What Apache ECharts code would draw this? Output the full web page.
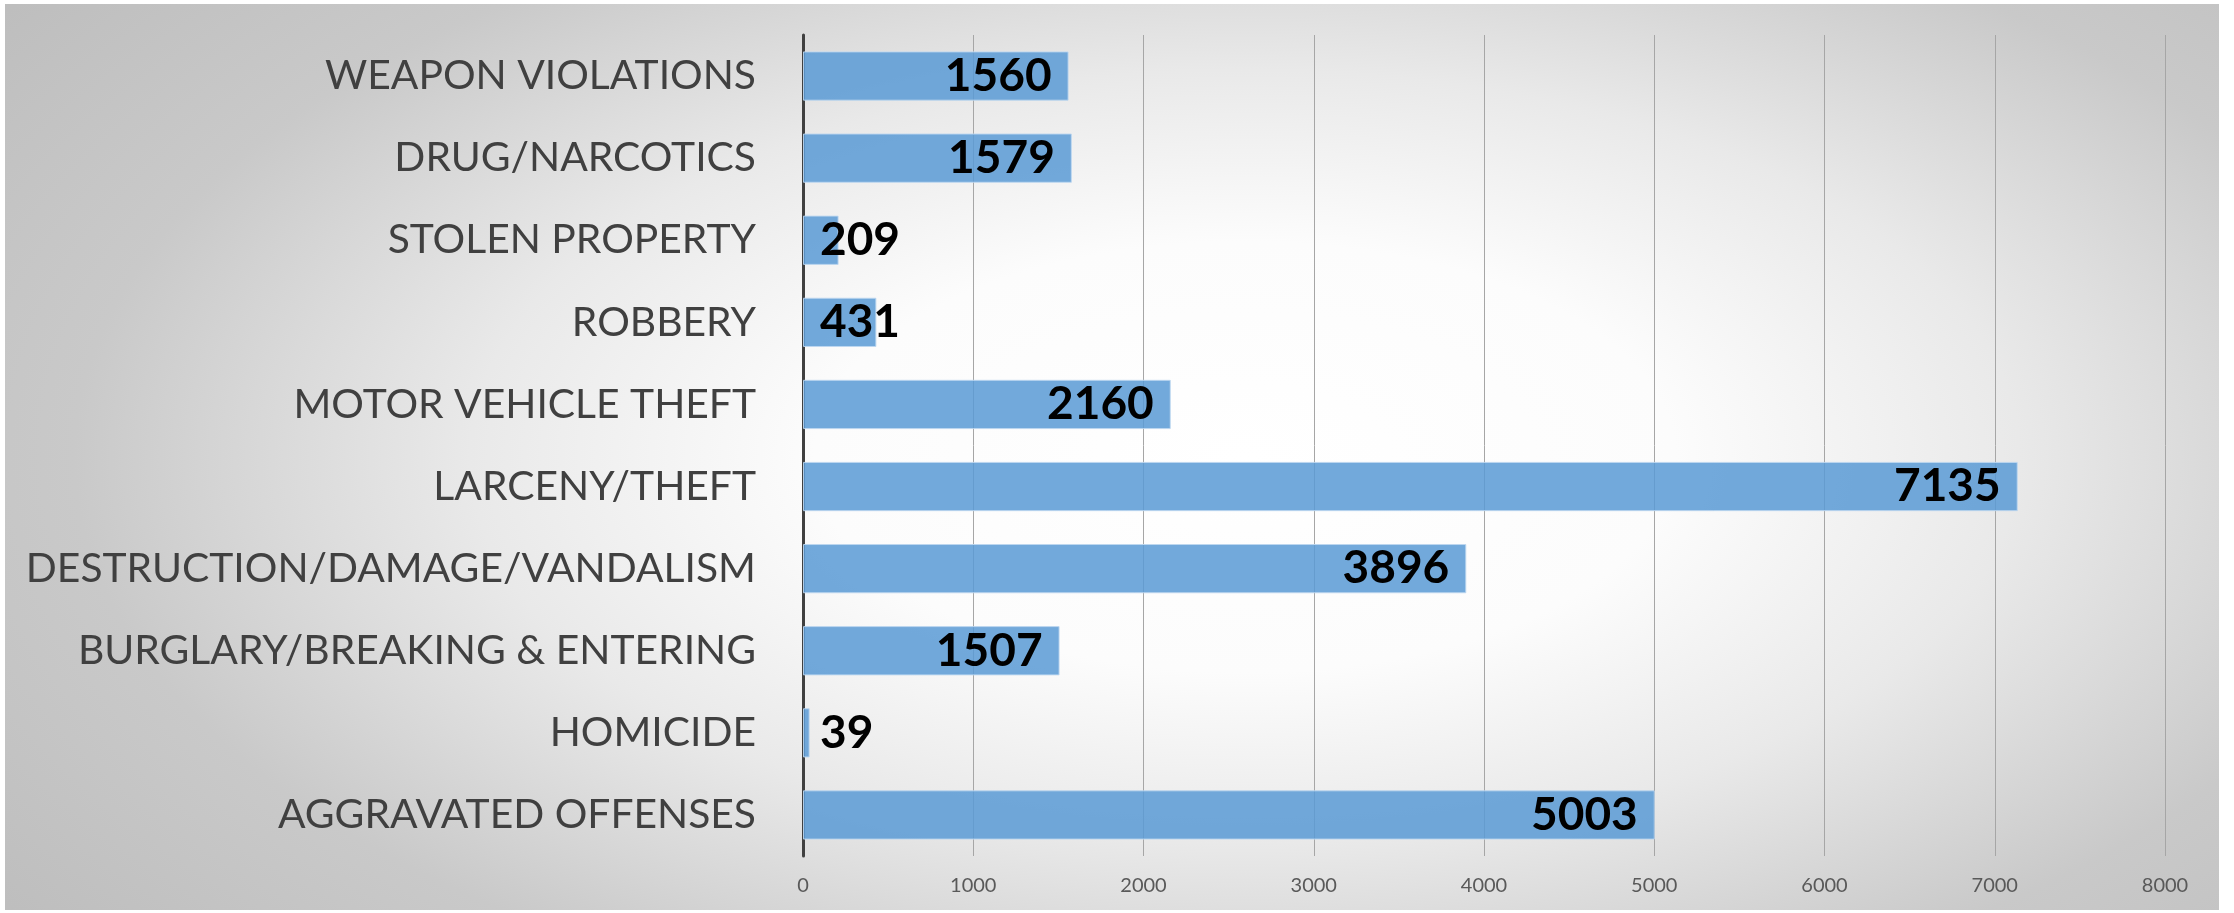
<!DOCTYPE html>
<html>
<head>
<meta charset="utf-8">
<script src="https://cdn.jsdelivr.net/npm/echarts@6/dist/echarts.min.js"></script>
<style>
  html, body { margin: 0; padding: 0; background: #ffffff; }
  #chart { width: 2234px; height: 913px; }
</style>
</head>
<body>
<div id="chart"></div>
<script>
// offense categories, top to bottom as drawn
const categories = [
  'WEAPON VIOLATIONS',
  'DRUG/NARCOTICS',
  'STOLEN PROPERTY',
  'ROBBERY',
  'MOTOR VEHICLE THEFT',
  'LARCENY/THEFT',
  'DESTRUCTION/DAMAGE/VANDALISM',
  'BURGLARY/BREAKING & ENTERING',
  'HOMICIDE',
  'AGGRAVATED OFFENSES'
]
const counts = [1560, 1579, 209, 431, 2160, 7135, 3896, 1507, 39, 5003]
const xTicks = [0, 1000, 2000, 3000, 4000, 5000, 6000, 7000, 8000]

const chart = echarts.init(document.getElementById('chart'))

// short bars can't hold their label, so it goes just past the axis instead
const barData = counts.map(v => v < 600
  ? { value: v, label: { position: 'insideLeft', distance: 17 } }
  : v)

const option = {
  backgroundColor: '#ffffff',
  animation: false,
  graphic: [
    {
      type: 'rect',
      z: -10,
      silent: true,
      x: 5,
      y: 4,
      scaleX: 2,
      shape: { x: 0, y: 0, width: 1107, height: 906 },
      style: {
        fill: {
          type: 'radial',
          x: 0.56,
          y: 0.5,
          r: 0.95,
          colorStops: [
            { offset: 0, color: '#ffffff' },
            { offset: 0.25, color: '#fcfcfc' },
            { offset: 0.45, color: '#e9e9e9' },
            { offset: 0.68, color: '#c9c9c9' },
            { offset: 1, color: '#b8b8b8' }
          ]
        }
      }
    }
  ],
  grid: {
    left: 803,
    right: 69,
    top: 35,
    bottom: 57
  },
  xAxis: {
    type: 'value',
    min: 0,
    max: xTicks[xTicks.length - 1],
    interval: xTicks[1] - xTicks[0],
    axisLine: { show: false },
    axisTick: { show: false },
    axisLabel: {
      fontFamily: 'Lato',
      fontSize: 20,
      color: '#595959',
      margin: 20,
      formatter: v => String(v)
    },
    splitLine: {
      show: true,
      lineStyle: { color: '#a6a6a6', width: 1 }
    }
  },
  yAxis: {
    type: 'category',
    inverse: true,
    data: categories,
    axisLine: {
      show: true,
      lineStyle: { color: '#404040', width: 3 }
    },
    axisTick: { show: false },
    axisLabel: {
      fontFamily: 'Lato',
      fontSize: 40.8,
      color: '#404040',
      margin: 47
    },
    splitLine: { show: false }
  },
  series: [
    {
      type: 'bar',
      data: barData,
      barCategoryGap: '40%',
      itemStyle: {
        color: 'rgba(91, 155, 213, 0.86)',
        borderColor: 'rgba(190, 215, 240, 0.9)',
        borderWidth: 1
      },
      label: {
        show: true,
        position: 'insideRight',
        distance: 17,
        fontFamily: 'Lato',
        fontWeight: 'bold',
        fontSize: 46,
        color: '#000000'
      },
      z: 3
    }
  ]
}

chart.setOption(option)
</script>
</body>
</html>
